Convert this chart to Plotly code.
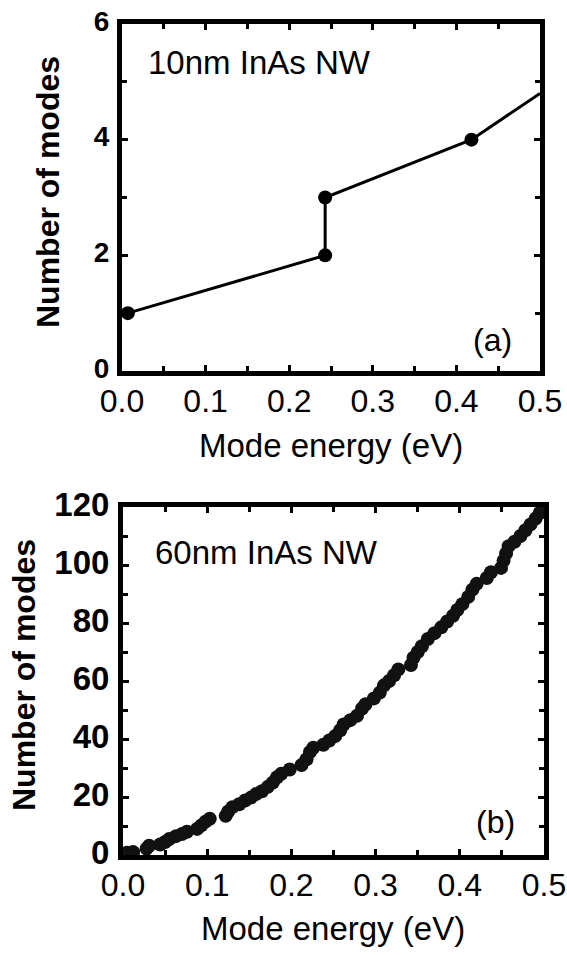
import plotly.graph_objects as go

W, H = 567, 955

# Panel (a): 10nm InAs NW
a_x = [0.007, 0.243, 0.243, 0.418]
a_y = [1, 2, 3, 4]
a_line_x = [0.007, 0.243, 0.243, 0.418, 0.5]
a_line_y = [1, 2, 3, 4, 4.8]

# Panel (b): 60nm InAs NW
b_x = [0.005, 0.012, 0.028, 0.031, 0.044, 0.050, 0.055, 0.063, 0.070, 0.076,
       0.088, 0.093, 0.098, 0.103, 0.122, 0.125, 0.130, 0.138, 0.145, 0.152,
       0.158, 0.165, 0.172, 0.178, 0.183, 0.188, 0.198, 0.212, 0.218, 0.222,
       0.226, 0.238, 0.245, 0.252, 0.258, 0.262, 0.270, 0.278, 0.284, 0.288,
       0.298, 0.305, 0.310, 0.316, 0.322, 0.327, 0.342, 0.345, 0.350, 0.355,
       0.362, 0.370, 0.378, 0.385, 0.392, 0.397, 0.403, 0.410, 0.415, 0.420,
       0.432, 0.437, 0.449, 0.452, 0.455, 0.458, 0.465, 0.472, 0.478, 0.484,
       0.490, 0.495, 0.499]
b_y = [0.8, 1.0, 2.2, 3.2, 3.6, 4.5, 5.5, 6.5, 7.2, 8.0,
       9.0, 10.2, 11.5, 12.5, 13.5, 15.0, 16.5, 17.5, 18.8, 19.8,
       21.0, 22.0, 23.5, 25.0, 26.8, 28.0, 29.5, 31.0, 33.0, 35.5,
       37.0, 38.0, 39.5, 41.0, 43.0, 45.0, 46.5, 48.0, 50.5, 52.0,
       54.0, 56.0, 58.5, 60.0, 62.0, 64.0, 65.5, 68.0, 70.0, 72.0,
       74.5, 76.5, 78.5, 80.5, 82.5, 84.5, 86.5, 89.0, 91.5, 93.5,
       95.5, 97.5, 99.0, 101.5, 104.0, 106.5, 108.0, 110.0, 112.0, 114.0,
       116.0, 118.0, 119.5]

a_yticks = [0, 2, 4, 6]
b_yticks = [0, 20, 40, 60, 80, 100, 120]
x_ticks = [0.0, 0.1, 0.2, 0.3, 0.4, 0.5]

FONT = "Liberation Sans, Arial, sans-serif"
BLACK = "#000000"

fig = go.Figure()
fig.add_trace(go.Scatter(x=a_line_x, y=a_line_y, mode="lines",
                         line=dict(color=BLACK, width=3), xaxis="x", yaxis="y",
                         showlegend=False, hoverinfo="skip"))
fig.add_trace(go.Scatter(x=a_x, y=a_y, mode="markers",
                         marker=dict(color=BLACK, size=14), xaxis="x", yaxis="y",
                         showlegend=False, cliponaxis=False))
fig.add_trace(go.Scatter(x=b_x, y=b_y, mode="markers",
                         marker=dict(color="#111111", size=14), xaxis="x2", yaxis="y2",
                         showlegend=False))

def px_x(p):
    return p / W

def px_y(p):
    return 1 - p / H

def xaxis(domain, anchor):
    return dict(domain=domain, anchor=anchor, range=[0, 0.5], automargin=False,
                tickvals=x_ticks, ticktext=[f"{v:.1f}" for v in x_ticks],
                ticks="inside", ticklen=6, tickwidth=3, tickcolor=BLACK,
                minor=dict(ticks="inside", dtick=0.05, tick0=0, ticklen=5, tickwidth=3, tickcolor=BLACK),
                showline=True, linewidth=5, linecolor=BLACK, mirror="allticks",
                showgrid=False, zeroline=False, ticklabelstandoff=-2,
                tickfont=dict(family=FONT, size=32, color=BLACK))

def yaxis(domain, anchor, rng, ticks, minor_dtick, fsize):
    return dict(domain=domain, anchor=anchor, range=rng, automargin=False,
                tickvals=ticks, ticktext=[str(v) for v in ticks],
                ticks="inside", ticklen=6, tickwidth=3, tickcolor=BLACK,
                minor=dict(ticks="inside", dtick=minor_dtick, tick0=0, ticklen=5, tickwidth=3, tickcolor=BLACK),
                showline=True, linewidth=5, linecolor=BLACK, mirror="allticks",
                showgrid=False, zeroline=False, ticklabelstandoff=2, ticklabelshift=-3,
                tickfont=dict(family=FONT, size=fsize, color=BLACK, weight="bold"))

def txt(text, x, y, size, bold=False, angle=0, xanchor="center"):
    return dict(text=text, x=px_x(x), y=px_y(y), xref="paper", yref="paper",
                xanchor=xanchor, yanchor="middle", showarrow=False, textangle=angle,
                font=dict(family=FONT, size=size, color=BLACK, weight="bold" if bold else "normal"))

fig.update_layout(
    template="none",
    width=W, height=H,
    margin=dict(l=0, r=0, t=0, b=0, autoexpand=False),
    paper_bgcolor="white", plot_bgcolor="white",
    xaxis=xaxis([px_x(122), px_x(540)], "y"),
    yaxis=yaxis([px_y(371), px_y(24)], "x", [0, 6], a_yticks, 1, 28),
    xaxis2=xaxis([px_x(123), px_x(544)], "y2"),
    yaxis2=yaxis([px_y(855), px_y(507)], "x2", [0, 120], b_yticks, 10, 33),
    annotations=[
        txt("10nm InAs NW", 146, 63, 33, xanchor="left"),
        txt("(a)", 514, 340, 32, xanchor="right"),
        txt("60nm InAs NW", 153, 552, 33, xanchor="left"),
        txt("(b)", 517, 822, 32, xanchor="right"),
        txt("Mode energy (eV)", 331, 445, 33),
        txt("Mode energy (eV)", 333, 928, 33),
        txt("Number of modes", 48, 192, 32, bold=True, angle=-90),
        txt("Number of modes", 24, 675, 32, bold=True, angle=-90),
    ],
)

fig.write_html("out.html")
